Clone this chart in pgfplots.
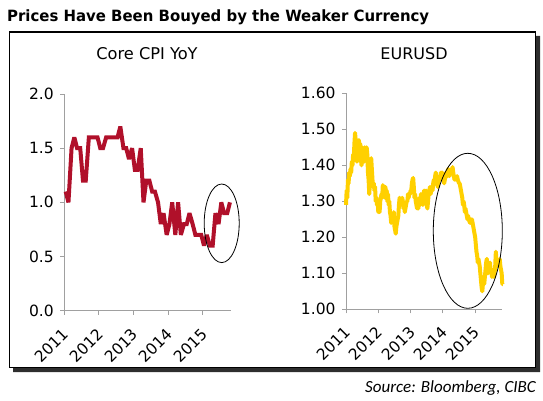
\documentclass[border=0pt]{standalone}
\usepackage{pgfplots}
\pgfplotsset{compat=1.18}
\usepackage{fontspec}
\usepackage{graphicx}
\setmainfont{DejaVu Sans}
\newfontfamily\titlefont{DejaVu Sans}
\newfontfamily\srcfont{Carlito}
\definecolor{cpired}{HTML}{B0102A}
\definecolor{eurgold}{HTML}{FFD000}
\definecolor{axgray}{HTML}{A0A0A0}
\pgfplotsset{
  myaxis/.style={
    scale only axis,
    axis lines=left,
    axis line style={draw=axgray, line width=0.9pt, -},
    tick style={draw=axgray, line width=0.9pt},
    tick align=outside,
    major tick length=4pt,
    xtick={2011,2012,2013,2014,2015},
    xticklabel style={xshift=4pt, yshift=-14pt, rotate=45, anchor=east, font=\fontsize{15.5}{18}\selectfont, /pgf/number format/1000 sep={}},
    yticklabel style={font=\fontsize{15.5}{18}\selectfont, xshift=-3pt},
    /pgf/number format/assume math mode=true,
    clip=false,
  }
}
\begin{document}
\begin{tikzpicture}[x=1pt,y=1pt]
\useasboundingbox (0pt,0pt) rectangle (543pt,400pt);
% frame shadow
\fill[black!82] (13pt,28pt) -- (540pt,28pt) -- (540pt,364pt) -- (535.5pt,364pt) -- (535.5pt,32.5pt) -- (13pt,32.5pt) -- cycle;
\draw[line width=1.2pt] (9.3pt,32.5pt) rectangle (535.5pt,368pt);
% title
\node[anchor=base west, inner sep=0] at (7pt,378.5pt) {\resizebox{422pt}{\height}{\titlefont\bfseries\fontsize{15.5}{18}\selectfont Prices Have Been Bouyed by the Weaker Currency}};
\node[anchor=base, inner sep=0] at (147pt,341pt) {\fontsize{16.2}{19}\selectfont Core CPI YoY};
\node[anchor=base, inner sep=0] at (414pt,341pt) {\fontsize{16}{19}\selectfont EURUSD};
\node[anchor=base east, inner sep=0] at (536pt,7.7pt) {\srcfont\itshape\fontsize{17}{20}\selectfont Source: Bloomberg, CIBC};

\begin{axis}[myaxis, at={(64.3pt,89.3pt)}, anchor=south west,
  width=166.7pt, height=216.7pt,
  xmin=2011, xmax=2015.82, ymin=0, ymax=2,
  ytick={0,0.5,1,1.5,2},
  yticklabel style={/pgf/number format/fixed, /pgf/number format/precision=1, /pgf/number format/fixed zerofill},
]
\addplot[cpired, line width=4pt, line join=miter, miter limit=3] coordinates {
(2011.04,1.1)(2011.12,1.0)(2011.21,1.5)(2011.29,1.6)(2011.37,1.5)(2011.46,1.5)(2011.54,1.2)(2011.62,1.2)(2011.71,1.6)(2011.79,1.6)(2011.87,1.6)(2011.96,1.6)
(2012.04,1.5)(2012.12,1.5)(2012.21,1.6)(2012.29,1.6)(2012.37,1.6)(2012.46,1.6)(2012.54,1.6)(2012.62,1.7)(2012.71,1.5)(2012.79,1.5)(2012.87,1.4)(2012.96,1.5)
(2013.04,1.3)(2013.12,1.3)(2013.21,1.5)(2013.29,1.0)(2013.37,1.2)(2013.46,1.2)(2013.54,1.1)(2013.62,1.1)(2013.71,1.0)(2013.79,0.8)(2013.87,0.9)(2013.96,0.7)
(2014.04,0.8)(2014.12,1.0)(2014.21,0.7)(2014.29,1.0)(2014.37,0.7)(2014.46,0.8)(2014.54,0.8)(2014.62,0.9)(2014.71,0.8)(2014.79,0.7)(2014.87,0.7)(2014.96,0.7)
(2015.04,0.6)(2015.12,0.7)(2015.21,0.6)(2015.29,0.6)(2015.37,0.9)(2015.46,0.8)(2015.54,1.0)(2015.62,0.9)(2015.71,0.9)(2015.79,1.0)
};
\end{axis}

\begin{axis}[myaxis, at={(346pt,90.7pt)}, anchor=south west,
  width=156.3pt, height=216pt,
  xmin=2011, xmax=2015.84, ymin=1.0, ymax=1.6,
  ytick={1.0,1.1,1.2,1.3,1.4,1.5,1.6},
  yticklabel style={/pgf/number format/fixed, /pgf/number format/precision=2, /pgf/number format/fixed zerofill},
]
\addplot[eurgold, line width=4pt, line join=round] coordinates {
(2011.00,1.29)(2011.02,1.33)(2011.04,1.31)(2011.06,1.36)(2011.08,1.35)(2011.10,1.38)(2011.12,1.37)(2011.14,1.39)(2011.16,1.38)(2011.18,1.41)
(2011.20,1.40)(2011.22,1.43)(2011.24,1.42)(2011.26,1.46)(2011.28,1.49)(2011.30,1.47)(2011.32,1.44)(2011.34,1.41)(2011.36,1.44)(2011.38,1.42)
(2011.40,1.47)(2011.42,1.44)(2011.44,1.46)(2011.46,1.42)(2011.48,1.40)(2011.50,1.45)(2011.52,1.43)(2011.54,1.44)(2011.56,1.41)(2011.58,1.45)
(2011.60,1.44)(2011.62,1.42)(2011.64,1.45)(2011.66,1.43)(2011.68,1.38)(2011.70,1.36)(2011.72,1.32)(2011.74,1.35)(2011.76,1.38)(2011.78,1.42)
(2011.80,1.39)(2011.82,1.36)(2011.84,1.34)(2011.86,1.35)(2011.88,1.33)(2011.90,1.34)(2011.92,1.30)(2011.94,1.31)(2011.96,1.29)(2011.98,1.30)
(2012.00,1.27)(2012.02,1.29)(2012.04,1.27)(2012.06,1.30)(2012.08,1.31)(2012.10,1.32)(2012.12,1.31)(2012.14,1.345)(2012.16,1.32)(2012.18,1.33)
(2012.20,1.31)(2012.22,1.34)(2012.24,1.32)(2012.26,1.33)(2012.28,1.30)(2012.30,1.32)(2012.32,1.29)(2012.34,1.30)(2012.36,1.27)(2012.38,1.26)
(2012.40,1.24)(2012.42,1.25)(2012.44,1.26)(2012.46,1.24)(2012.48,1.27)(2012.50,1.23)(2012.52,1.22)(2012.54,1.21)(2012.56,1.23)(2012.58,1.24)
(2012.60,1.25)(2012.62,1.26)(2012.64,1.29)(2012.66,1.31)(2012.68,1.29)(2012.70,1.30)(2012.72,1.29)(2012.74,1.31)(2012.76,1.30)(2012.78,1.28)
(2012.80,1.29)(2012.82,1.27)(2012.84,1.28)(2012.86,1.29)(2012.88,1.30)(2012.90,1.30)(2012.92,1.32)(2012.94,1.31)(2012.96,1.32)(2012.98,1.32)
(2013.00,1.33)(2013.02,1.33)(2013.04,1.35)(2013.06,1.36)(2013.08,1.365)(2013.10,1.34)(2013.12,1.31)(2013.14,1.32)(2013.16,1.30)(2013.18,1.29)
(2013.20,1.28)(2013.22,1.30)(2013.24,1.28)(2013.26,1.30)(2013.28,1.31)(2013.30,1.29)(2013.32,1.32)(2013.34,1.30)(2013.36,1.31)(2013.38,1.29)
(2013.40,1.32)(2013.42,1.33)(2013.44,1.31)(2013.46,1.30)(2013.48,1.33)(2013.50,1.29)(2013.52,1.28)(2013.54,1.30)(2013.56,1.32)(2013.58,1.33)
(2013.60,1.34)(2013.62,1.32)(2013.64,1.33)(2013.66,1.34)(2013.68,1.33)(2013.70,1.35)(2013.72,1.36)(2013.74,1.35)(2013.76,1.37)(2013.78,1.38)
(2013.80,1.36)(2013.82,1.35)(2013.84,1.34)(2013.86,1.35)(2013.88,1.37)(2013.90,1.36)(2013.92,1.37)(2013.94,1.38)(2013.96,1.37)(2013.98,1.38)
(2014.00,1.37)(2014.02,1.36)(2014.04,1.35)(2014.06,1.36)(2014.08,1.37)(2014.10,1.38)(2014.12,1.38)(2014.14,1.37)(2014.16,1.39)(2014.18,1.38)
(2014.20,1.37)(2014.22,1.38)(2014.24,1.385)(2014.26,1.39)(2014.28,1.385)(2014.30,1.395)(2014.32,1.38)(2014.34,1.37)(2014.36,1.36)(2014.38,1.365)
(2014.40,1.36)(2014.42,1.36)(2014.44,1.37)(2014.46,1.36)(2014.48,1.355)(2014.50,1.35)(2014.52,1.35)(2014.54,1.34)(2014.56,1.33)(2014.58,1.32)
(2014.60,1.31)(2014.62,1.29)(2014.64,1.30)(2014.66,1.29)(2014.68,1.27)(2014.70,1.28)(2014.72,1.27)(2014.74,1.26)(2014.76,1.25)(2014.78,1.26)
(2014.80,1.25)(2014.82,1.245)(2014.84,1.24)(2014.86,1.25)(2014.88,1.24)(2014.90,1.25)(2014.92,1.24)(2014.94,1.23)(2014.96,1.22)(2014.98,1.21)
(2015.00,1.20)(2015.02,1.18)(2015.04,1.16)(2015.06,1.15)(2015.08,1.13)(2015.10,1.14)(2015.12,1.13)(2015.14,1.12)(2015.16,1.10)(2015.18,1.08)
(2015.20,1.06)(2015.22,1.05)(2015.24,1.07)(2015.26,1.08)(2015.28,1.07)(2015.30,1.09)(2015.32,1.11)(2015.34,1.13)(2015.36,1.14)(2015.38,1.12)
(2015.40,1.10)(2015.42,1.11)(2015.44,1.12)(2015.46,1.13)(2015.48,1.10)(2015.50,1.11)(2015.52,1.09)(2015.54,1.10)(2015.56,1.11)(2015.58,1.09)
(2015.60,1.10)(2015.62,1.12)(2015.64,1.16)(2015.66,1.13)(2015.68,1.12)(2015.70,1.13)(2015.72,1.12)(2015.74,1.13)(2015.76,1.14)(2015.78,1.12)
(2015.80,1.11)(2015.82,1.10)(2015.84,1.07)(2015.86,1.07)
};
\end{axis}
% annotation ellipses
\draw[line width=0.8pt] (221.7pt,176.7pt) ellipse [x radius=17.5pt, y radius=39.3pt];
\draw[line width=0.8pt] (467.8pt,169.2pt) ellipse [x radius=34.5pt, y radius=77.5pt];
\end{tikzpicture}
\end{document}
